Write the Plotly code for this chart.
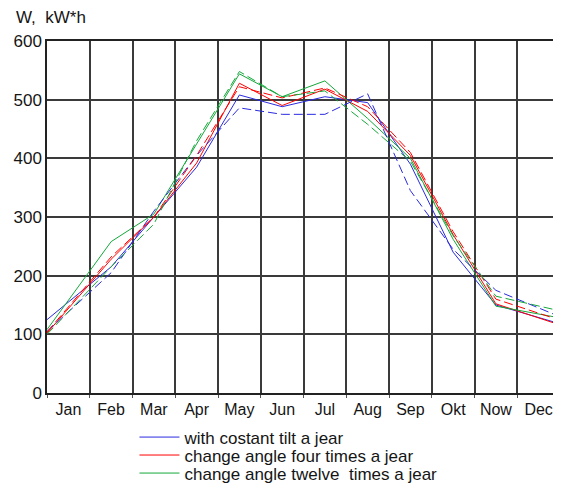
import plotly.graph_objects as go

months = ["Jan", "Feb", "Mar", "Apr", "May", "Jun", "Jul", "Aug", "Sep", "Okt", "Now", "Dec"]
y_ticks = [0, 100, 200, 300, 400, 500, 600]

# solid series (legend entries)
blue_solid = [125, 215, 300, 385, 508, 488, 505, 495, 390, 240, 150, 118]
red_solid = [102, 228, 300, 392, 528, 490, 518, 480, 405, 270, 152, 116]
green_solid = [108, 258, 305, 425, 544, 505, 532, 468, 400, 262, 148, 128]
# dashed companions (not in legend)
blue_dashed = [105, 205, 310, 405, 486, 475, 475, 510, 345, 245, 175, 130]
red_dashed = [104, 232, 300, 405, 522, 503, 520, 488, 410, 275, 160, 124]
green_dashed = [100, 215, 288, 430, 548, 505, 515, 458, 395, 268, 165, 140]

legend_names = ["with costant tilt a jear", "change angle four times a jear",
                "change angle twelve  times a jear"]

# month points sit at the cell centres; first/last are drawn at the axis edges
n = len(months)
xpos = [i + 0.5 for i in range(n)]
xpos[0] = 0
xpos[-1] = n

BLUE, RED, GREEN = "#2a2ae0", "#ff0000", "#14a83a"
FONT = "Liberation Sans, Arial, sans-serif"
TXT = "#151515"

fig = go.Figure()
for k, (vals, col, name) in enumerate([(blue_solid, BLUE, legend_names[0]),
                                        (red_solid, RED, legend_names[1]),
                                        (green_solid, GREEN, legend_names[2])]):
    fig.add_trace(go.Scatter(x=xpos, y=vals, mode="lines", name=name,
                             legend="legend" if k == 0 else f"legend{k + 1}",
                             line=dict(color=col, width=1)))
for vals, col in [(blue_dashed, BLUE), (red_dashed, RED), (green_dashed, GREEN)]:
    fig.add_trace(go.Scatter(x=xpos, y=vals, mode="lines", showlegend=False,
                             line=dict(color=col, width=1, dash="9px,4px")))

def leg(y):
    return dict(x=0.1705, y=y, xanchor="left", yanchor="middle",
                font=dict(family=FONT, size=17, color=TXT),
                itemwidth=40, bgcolor="rgba(0,0,0,0)", borderwidth=0)

# the page body adds an 8px margin, so the figure is 8px smaller than the window
fig.update_layout(
    width=553, height=480,
    margin=dict(l=39, r=1, t=33, b=95, autoexpand=False),
    paper_bgcolor="white", plot_bgcolor="white",
    font=dict(family=FONT, size=17, color=TXT),
    showlegend=True,
    legend=leg(-0.1265),
    legend2=leg(-0.1775),
    legend3=leg(-0.2287),
    xaxis=dict(range=[0, n], tickvals=[i + 0.5 for i in range(n)], ticktext=months,
               showgrid=False, zeroline=False, ticks="outside", ticklen=1,
               tickcolor="rgba(0,0,0,0)", automargin=False,
               showline=True, linecolor="#222", linewidth=1.5, mirror=True,
               tickfont=dict(family=FONT, size=16, color=TXT),
               minor=dict(tickvals=list(range(n + 1)), showgrid=True,
                          gridcolor="#3a3a3a", gridwidth=1.5,
                          ticks="outside", ticklen=3, tickcolor="#555")),
    yaxis=dict(range=[0, 600], tickvals=y_ticks, showgrid=True, gridcolor="#3a3a3a",
               gridwidth=1.5, zeroline=False, showline=True, linecolor="#222",
               linewidth=1.5, mirror=True, ticks="", automargin=False,
               tickfont=dict(family=FONT, size=17, color=TXT)),
    annotations=[dict(text="W,  kW*h", xref="paper", yref="paper",
                      x=-0.0643, y=1.0654, xanchor="left", yanchor="middle",
                      showarrow=False, font=dict(family=FONT, size=17, color=TXT))],
)

fig.write_html("out.html")
